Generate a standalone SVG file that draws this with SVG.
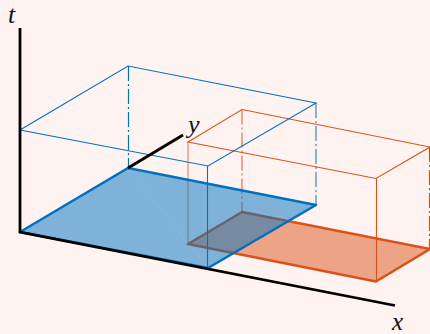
<svg xmlns="http://www.w3.org/2000/svg" width="430" height="334" viewBox="0 0 430 334">
<style>
.blue{stroke:#0072bd;fill:none}
.orange{stroke:#d95319;fill:none}
.thin{stroke-width:1.1;stroke-linejoin:miter}
.thick{stroke-width:2.6;stroke-linejoin:round}
.dash{stroke-dasharray:15 3 2 3;stroke-width:1.2}
.axis{stroke:#000;stroke-width:2.8;fill:none}
.lab{font-family:"Liberation Serif",serif;font-style:italic;font-size:26px;fill:#111}
</style>
<rect width="430" height="334" fill="#fff3f2"/>
<g id="orange-box">
<path d="M188 244L242 212L430 249L376 281.5Z" fill="#d95319" fill-opacity=".5" stroke="none"/>
<path class="orange thick" d="M188 244L242 212L430 249L376 281.5Z"/>
<path class="orange thin" d="M188 142L242 109.5L430 147L376 178.5Z"/>
<path class="orange thin" d="M376.5 178.5V281.5"/>
<path class="orange thin" d="M188 142V244" stroke-width="1.3" stroke-opacity=".7"/>
<path class="orange dash" d="M242 109.5V212" stroke-opacity=".8"/>
<path class="orange dash" d="M429.5 147V249"/>
</g>
<g id="blue-box">
<path d="M20 232L128 168L316 205L208 268Z" fill="#0072bd" fill-opacity=".5" stroke="none"/>
<path d="M128 168L208 268" stroke="#fff" stroke-opacity=".12" stroke-width=".6" fill="none"/>
<path class="blue thick" d="M20 232L128 168L316 205L208 268Z"/>
<path class="blue thin" d="M20 130L128 66L316 103L208 166Z"/>
<path class="blue thin" d="M207.5 166V268"/>
<path class="blue dash" d="M128.5 66V168"/>
<path class="blue dash" d="M316 103V205" stroke-opacity=".8"/>
</g>
<g id="axes">
<path class="axis" d="M20 28V232L395 305.5"/>
<path class="axis" d="M128 168L183 135"/>
</g>
<g id="labels">
<text class="lab" x="8" y="23">t</text>
<text class="lab" x="188" y="133">y</text>
<text class="lab" x="392" y="330" style="font-size:25px">x</text>
</g>
</svg>
